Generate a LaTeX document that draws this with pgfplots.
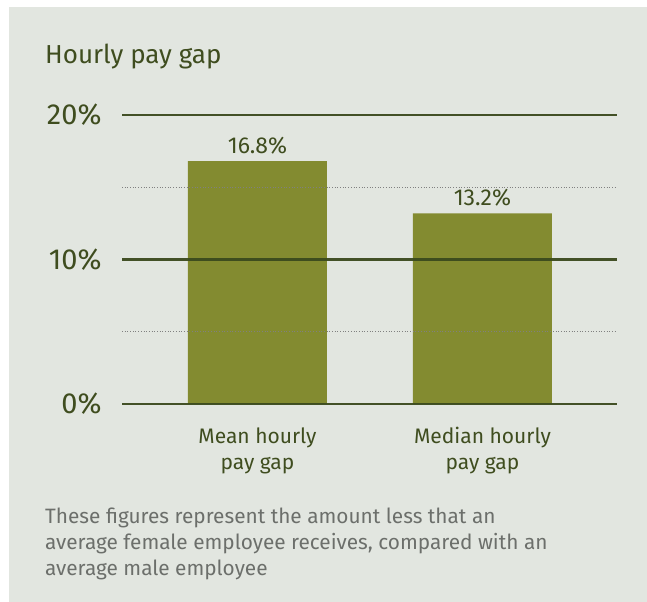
\documentclass[border=0pt]{standalone}
\usepackage{pgfplots}
\pgfplotsset{compat=1.18}
\usepackage{fontspec}
\setmainfont{Fira Sans}
\definecolor{bgc}{HTML}{E2E6E0}
\definecolor{barc}{HTML}{838B30}
\definecolor{textc}{HTML}{3F4D1F}
\definecolor{gridc}{HTML}{3B4A1E}
\definecolor{notec}{HTML}{6C6F6B}
\begin{document}
\begin{tikzpicture}
\fill[white] (0,0) rectangle (647bp,-602bp);
\fill[bgc] (9bp,-7bp) rectangle (647bp,-602bp);
\node[anchor=base west, inner sep=0pt, text=textc, font=\fontsize{26bp}{32bp}\selectfont] at (45bp,-63bp) {Hourly pay gap};
\begin{axis}[
  scale only axis, width=495bp, height=289bp,
  at={(122bp,-404bp)}, anchor=south west,
  xmin=-0.602, xmax=1.598, ymin=0, ymax=20,
  enlargelimits=false,
  ybar, bar width=0.618,
  axis line style={draw=none},
  major tick length=0pt, minor tick length=0pt,
  tick style={draw=none},
  ytick={0,10,20}, yticklabels={0\%,10\%,20\%},
  minor ytick={5,15},
  ymajorgrids, yminorgrids,
  major grid style={line width=2.5bp, color=gridc, opacity=0.95},
  minor grid style={line width=0.7bp, dotted, color=gray},
  xtick=data, xticklabels={Mean hourly\\pay gap, Median hourly\\pay gap},
  xticklabel style={align=center, text=textc, yshift=-20bp, font=\fontsize{21bp}{26bp}\selectfont},
  yticklabel style={anchor=east, xshift=-17bp, text=textc, font=\fontsize{29bp}{32bp}\selectfont},
  axis on top,
  /pgf/number format/assume math mode=true,
  nodes near coords={\pgfmathprintnumber[fixed,precision=1,fixed zerofill,assume math mode=true]{\pgfplotspointmeta}\%},
  every node near coord/.append style={anchor=base, yshift=8bp, inner sep=0pt, text=textc, font=\fontsize{23bp}{26bp}\selectfont},
]
\addplot[fill=barc, draw=none] coordinates {(0,16.8) (1,13.2)};
\end{axis}
\node[anchor=base west, inner sep=0pt, align=left, text=notec, font=\fontsize{20.8bp}{26bp}\selectfont] at (45bp,-575bp) {These figures represent the amount less that an\\average female employee receives, compared with an\\average male employee};
\end{tikzpicture}
\end{document}
